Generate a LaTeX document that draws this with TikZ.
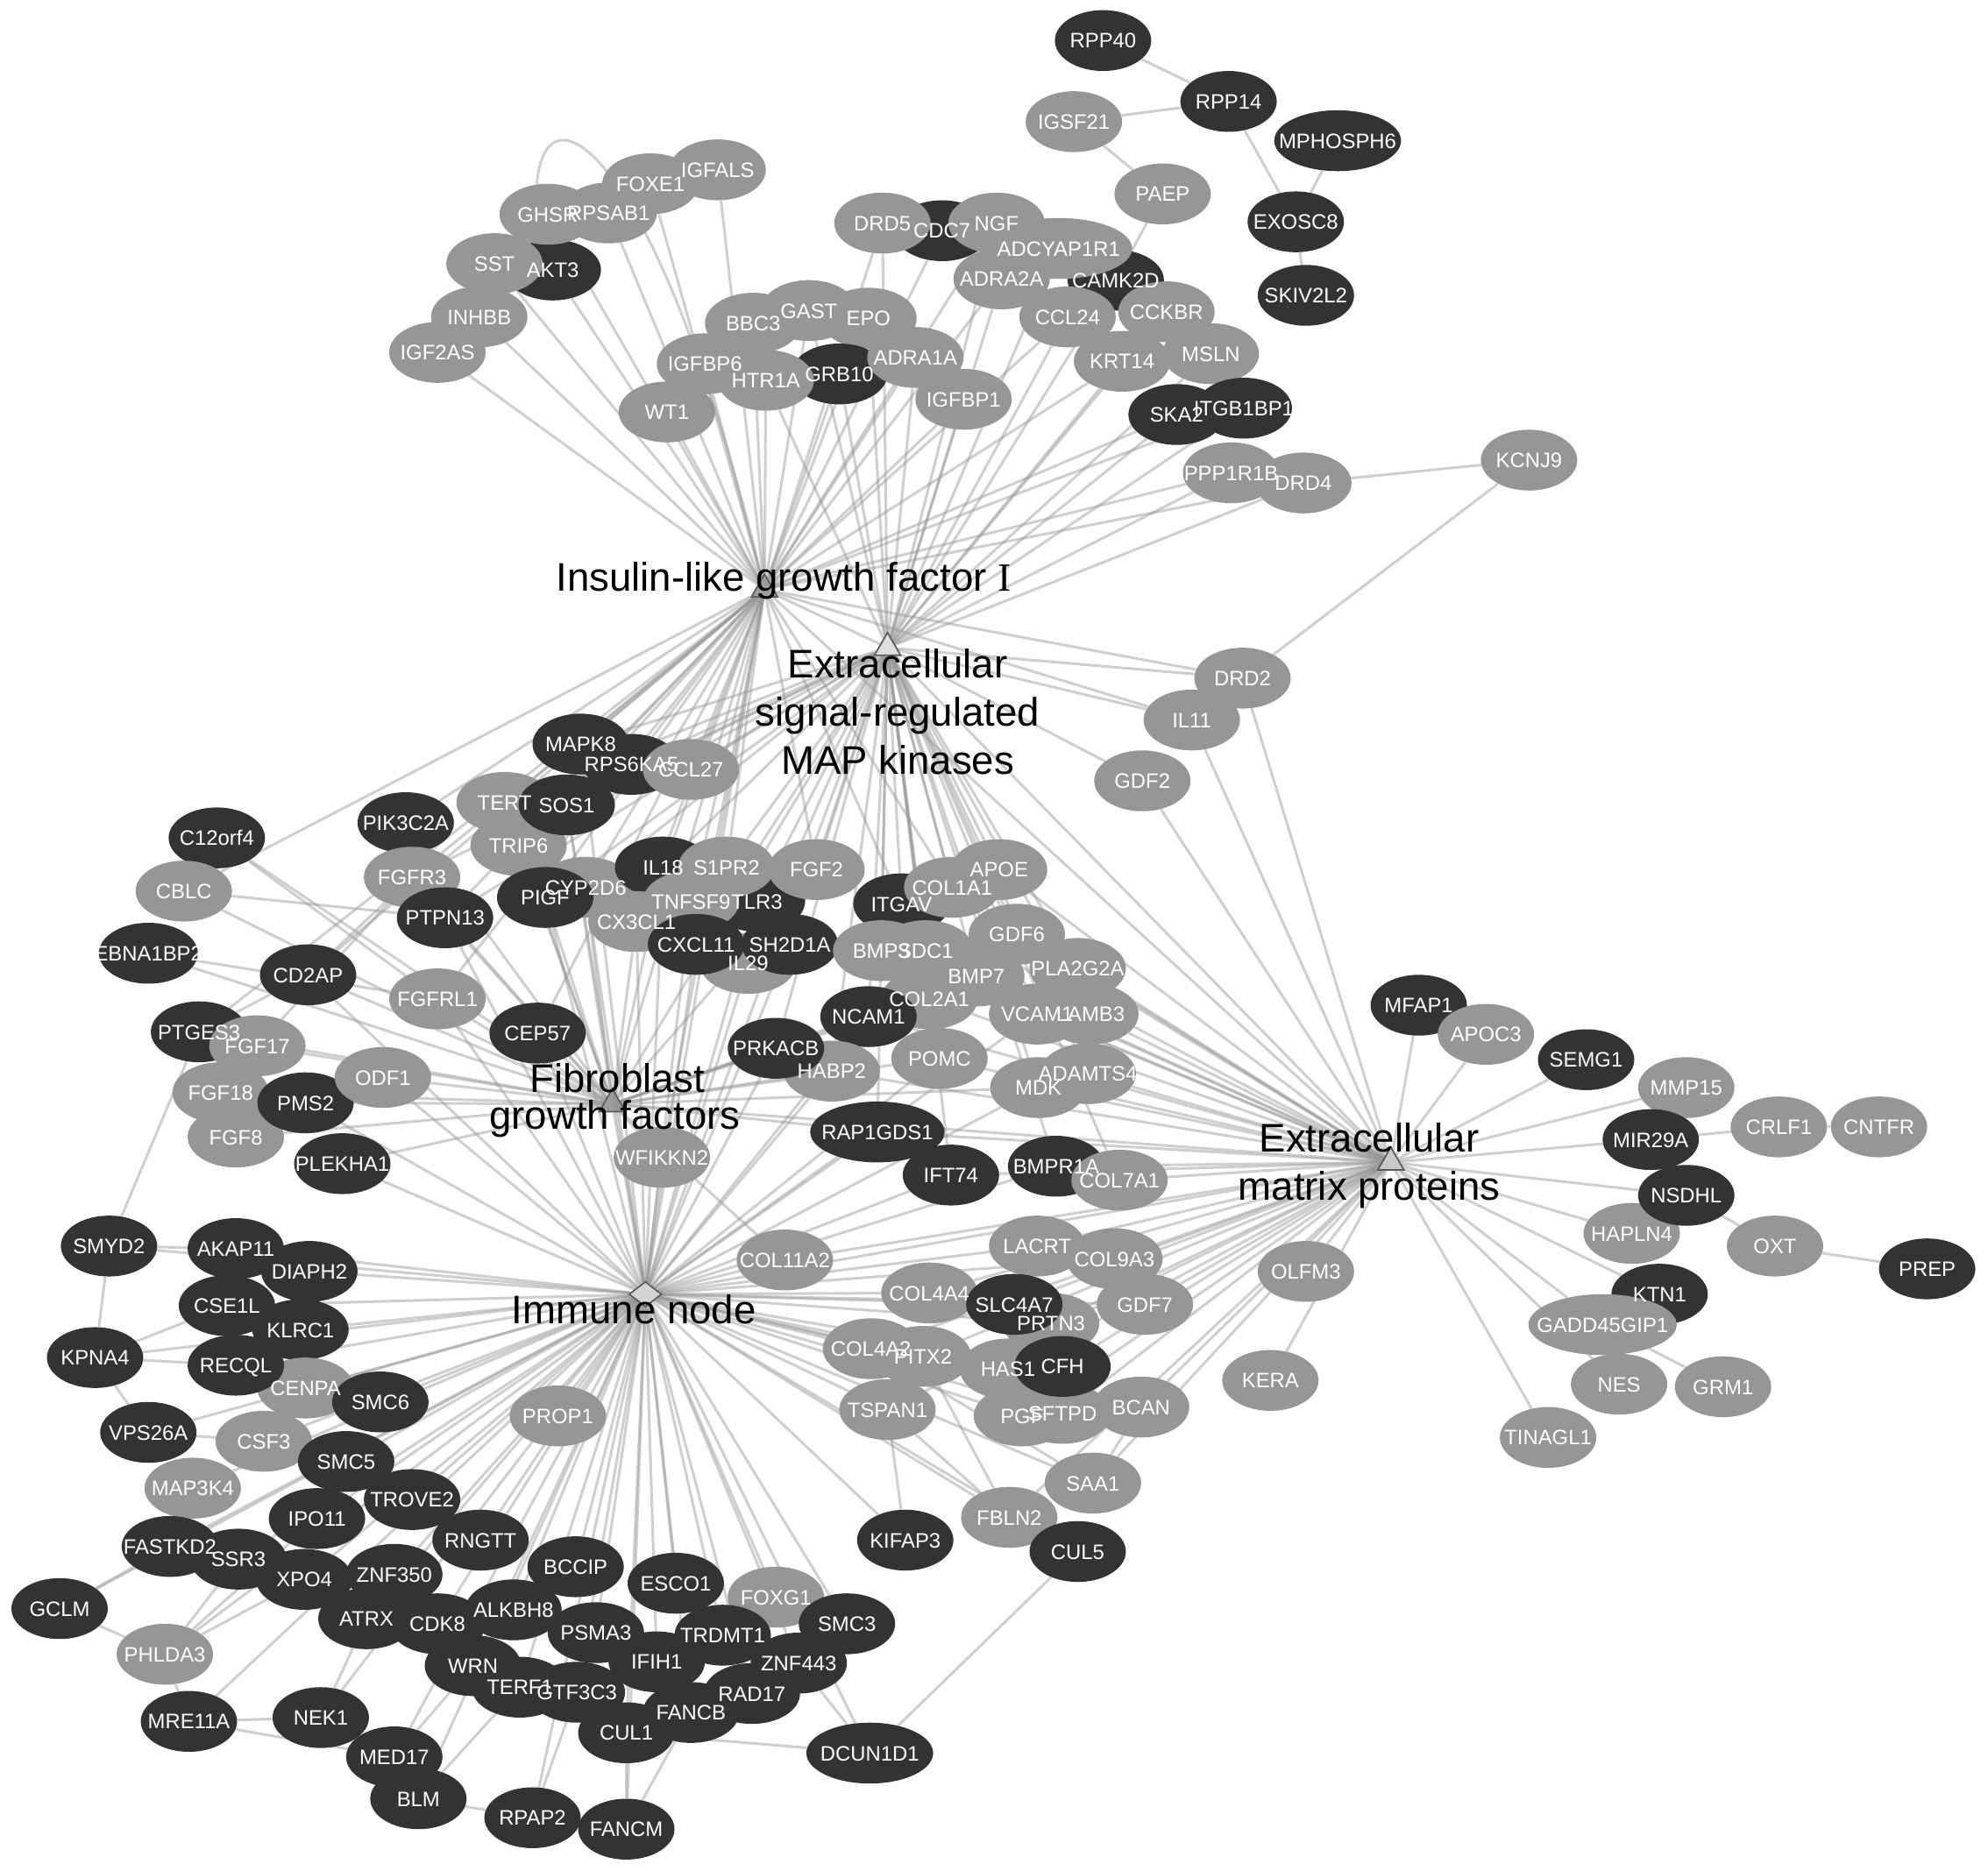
\documentclass[tikz,border=0pt]{standalone}
\usepackage{fontspec}
\setmainfont{Liberation Sans}
\newfontfamily\serifI{Liberation Serif}
\usetikzlibrary{shapes.geometric}
\pgfdeclarelayer{bg}
\pgfdeclarelayer{fg}
\pgfsetlayers{bg,main,fg}
\definecolor{dk}{RGB}{51,51,51}
\definecolor{lt}{RGB}{150,150,150}
\definecolor{edgec}{RGB}{150,150,150}
\newcommand\nfont{\fontsize{16.5}{19}\selectfont}
\newcommand\hfont{\fontsize{31.5}{36}\selectfont}
\newlength\gw
\newcommand\gn[6][0]{%
  \setbox0=\hbox{\nfont #5}%
  \gw=\wd0 \advance\gw by 6pt
  \ifdim\gw<76pt \gw=76pt\fi
  \ifdim #1pt>0pt \gw=#1pt\fi
  \node[gnode,fill=#6,minimum width=\gw] (#2) at (#3,#4) {};
  \begin{pgfonlayer}{fg}\node[glbl] (#2-t) at ([yshift=-6pt]#2.center) {#5};\end{pgfonlayer}%
}
\tikzset{
  gnode/.style={ellipse, inner sep=0pt, minimum height=48pt, draw=none},
  glbl/.style={anchor=base, inner sep=0pt, text=white, font=\nfont},
  edge/.style={draw=edgec, draw opacity=0.45, line width=2.1pt},
  hubtri/.style={regular polygon, regular polygon sides=3, minimum size=24pt, inner sep=0pt, draw=black!65, line width=1.2pt, fill=black!45, fill opacity=0.85},
  hubdia/.style={diamond, minimum width=26pt, minimum height=20pt, inner sep=0pt, draw=black!65, line width=1.2pt, fill=black!20, fill opacity=0.85},
  hlbl/.style={anchor=base, inner sep=0pt, text=black, font=\hfont},
}
\begin{document}
\begin{tikzpicture}[x=1pt,y=-1pt]
\useasboundingbox (0,0) rectangle (1568,1476);
\begin{pgfonlayer}{bg}
\fill[white] (0,0) rectangle (1568,1476);
\end{pgfonlayer}

% ---------- hubs ----------
\node[hubtri] (hI) at (603,465) {};
\node[hubtri, fill=black!15] (hE) at (700,511) {};
\node[hubtri] (hF) at (483,871) {};
\node[hubdia] (hM) at (509,1021) {};
\node[hubtri, fill=black!25] (hX) at (1097,917) {};

% ---------- top right ----------
\gn{RPP40}{870}{32}{RPP40}{dk}
\gn{RPP14}{969}{80}{RPP14}{dk}
\gn{IGSF21}{847}{96}{IGSF21}{lt}
\gn[100]{MPHOSPH6}{1055}{111}{MPHOSPH6}{dk}
\gn{PAEP}{917}{153}{PAEP}{lt}
\gn{EXOSC8}{1022}{175}{EXOSC8}{dk}
\gn{SKIV2L2}{1030}{233}{SKIV2L2}{dk}
\gn{KCNJ9}{1206}{363}{KCNJ9}{lt}

% ---------- top cluster ----------
\gn{CDC7}{743}{182}{CDC7}{dk}
\gn{DRD5}{696}{176}{DRD5}{lt}
\gn{NGF}{786}{176}{NGF}{lt}
\gn{CAMK2D}{880}{221}{CAMK2D}{dk}
\gn[116]{ADCYAP1R1}{835}{196}{ADCYAP1R1}{lt}
\gn{ADRA2A}{790}{220}{ADRA2A}{lt}
\gn{CCKBR}{920}{246}{CCKBR}{lt}
\gn{CCL24}{842}{250}{CCL24}{lt}
\gn{KRT14}{885}{285}{KRT14}{lt}
\gn{MSLN}{955}{279}{MSLN}{lt}
\gn{SKA2}{928}{327}{SKA2}{dk}
\gn{ITGB1BP1}{981}{322}{ITGB1BP1}{dk}
\gn{PPP1R1B}{971}{373}{PPP1R1B}{lt}
\gn{DRD4}{1028}{381}{DRD4}{lt}

\gn{IGFALS}{566}{134}{IGFALS}{lt}
\gn{FOXE1}{513}{145}{FOXE1}{lt}
\gn{AKT3}{436}{213}{AKT3}{dk}
\gn{RPSAB1}{480}{168}{RPSAB1}{lt}
\gn{GHSR}{432}{169}{GHSR}{lt}
\gn{SST}{390}{208}{SST}{lt}
\gn{INHBB}{378}{250}{INHBB}{lt}
\gn{IGF2AS}{345}{278}{IGF2AS}{lt}
\gn{BBC3}{594}{255}{BBC3}{lt}
\gn{GAST}{638}{245}{GAST}{lt}
\gn{EPO}{685}{251}{EPO}{lt}
\gn{GRB10}{662}{295}{GRB10}{dk}
\gn{ADRA1A}{722}{282}{ADRA1A}{lt}
\gn{IGFBP1}{760}{315}{IGFBP1}{lt}
\gn{IGFBP6}{556}{287}{IGFBP6}{lt}
\gn{HTR1A}{604}{300}{HTR1A}{lt}
\gn{WT1}{526}{325}{WT1}{lt}

% ---------- middle ----------
\gn{DRD2}{980}{535}{DRD2}{lt}
\gn{IL11}{940}{568}{IL11}{lt}
\gn{GDF2}{901}{616}{GDF2}{lt}
\gn{MAPK8}{458}{587}{MAPK8}{dk}
\gn{RPS6KA5}{498}{603}{RPS6KA5}{dk}
\gn{CCL27}{545}{607}{CCL27}{lt}
\gn{TERT}{398}{633}{TERT}{lt}
\gn{TRIP6}{409}{667}{TRIP6}{lt}
\gn{SOS1}{447}{635}{SOS1}{dk}
\gn{PIK3C2A}{320}{649}{PIK3C2A}{dk}
\gn{C12orf4}{171}{661}{C12orf4}{dk}
\gn{CBLC}{145}{703}{CBLC}{lt}
\gn{FGFR3}{325}{692}{FGFR3}{lt}
\gn{PTPN13}{351}{724}{PTPN13}{dk}
\gn{CYP2D6}{462}{700}{CYP2D6}{lt}
\gn{PIGF}{430}{708}{PIGF}{dk}
\gn{IL18}{523}{684}{IL18}{dk}
\gn{CX3CL1}{502}{727}{CX3CL1}{lt}
\gn{TLR3}{597}{711}{TLR3}{dk}
\gn{S1PR2}{573}{684}{S1PR2}{lt}
\gn{TNFSF9}{545}{711}{TNFSF9}{lt}
\gn{IL29}{590}{760}{IL29}{lt}
\gn{CXCL11}{549}{745}{CXCL11}{dk}
\gn{SH2D1A}{623}{745}{SH2D1A}{dk}
\gn{FGF2}{644}{686}{FGF2}{lt}
\gn{ITGAV}{711}{713}{ITGAV}{dk}
\gn{APOE}{788}{686}{APOE}{lt}
\gn{COL1A1}{751}{700}{COL1A1}{lt}
\gn{GDF6}{802}{737}{GDF6}{lt}
\gn{BMP3}{695}{750}{BMP3}{lt}
\gn{SDC1}{730}{750}{SDC1}{lt}
\gn{BMP7}{770}{770}{BMP7}{lt}
\gn{PLA2G2A}{850}{764}{PLA2G2A}{lt}
\gn{COL2A1}{733}{788}{COL2A1}{lt}
\gn{NCAM1}{685}{802}{NCAM1}{dk}
\gn{VCAM1}{818}{800}{VCAM1}{lt}
\gn{LAMB3}{860}{800}{LAMB3}{lt}
\gn{HABP2}{656}{845}{HABP2}{lt}
\gn{PRKACB}{612}{827}{PRKACB}{dk}
\gn{POMC}{741}{835}{POMC}{lt}
\gn{ADAMTS4}{858}{847}{ADAMTS4}{lt}
\gn{MDK}{819}{858}{MDK}{lt}
\gn[106]{RAP1GDS1}{692}{893}{RAP1GDS1}{dk}
\gn{IFT74}{750}{927}{IFT74}{dk}
\gn{BMPR1A}{833}{920}{BMPR1A}{dk}
\gn{COL7A1}{883}{931}{COL7A1}{lt}
\gn{WFIKKN2}{522}{913}{WFIKKN2}{lt}

% ---------- left ----------
\gn[78]{EBNA1BP2}{117}{752}{EBNA1BP2}{dk}
\gn{CD2AP}{243}{769}{CD2AP}{dk}
\gn{FGFRL1}{345}{788}{FGFRL1}{lt}
\gn{CEP57}{424}{815}{CEP57}{dk}
\gn{PTGES3}{157}{814}{PTGES3}{dk}
\gn{FGF17}{203}{825}{FGF17}{lt}
\gn{FGF18}{174}{862}{FGF18}{lt}
\gn{FGF8}{186}{897}{FGF8}{lt}
\gn{PMS2}{241}{870}{PMS2}{dk}
\gn{ODF1}{302}{850}{ODF1}{lt}
\gn{PLEKHA1}{270}{918}{PLEKHA1}{dk}

% ---------- right ----------
\gn{MFAP1}{1119}{793}{MFAP1}{dk}
\gn{APOC3}{1172}{816}{APOC3}{lt}
\gn{SEMG1}{1251}{836}{SEMG1}{dk}
\gn{MMP15}{1330}{858}{MMP15}{lt}
\gn{CRLF1}{1403}{889}{CRLF1}{lt}
\gn{CNTFR}{1482}{889}{CNTFR}{lt}
\gn{MIR29A}{1302}{899}{MIR29A}{dk}
\gn{HAPLN4}{1287}{973}{HAPLN4}{lt}
\gn{NSDHL}{1330}{943}{NSDHL}{dk}
\gn{OXT}{1400}{983}{OXT}{lt}
\gn{PREP}{1520}{1001}{PREP}{dk}
\gn{KTN1}{1309}{1021}{KTN1}{dk}
\gn[117]{GADD45GIP1}{1264}{1045}{GADD45GIP1}{lt}
\gn{NES}{1277}{1092}{NES}{lt}
\gn{GRM1}{1359}{1094}{GRM1}{lt}
\gn{TINAGL1}{1221}{1134}{TINAGL1}{lt}
\gn{OLFM3}{1030}{1003}{OLFM3}{lt}
\gn{KERA}{1002}{1089}{KERA}{lt}

% ---------- middle lower ----------
\gn{COL11A2}{619}{994}{COL11A2}{lt}
\gn{LACRT}{818}{983}{LACRT}{lt}
\gn{COL9A3}{879}{993}{COL9A3}{lt}
\gn{GDF7}{903}{1029}{GDF7}{lt}
\gn{PRTN3}{829}{1044}{PRTN3}{lt}
\gn{COL4A4}{733}{1020}{COL4A4}{lt}
\gn{SLC4A7}{800}{1029}{SLC4A7}{dk}
\gn{COL4A2}{687}{1064}{COL4A2}{lt}
\gn{PITX2}{728}{1070}{PITX2}{lt}
\gn{TSPAN1}{700}{1112}{TSPAN1}{lt}
\gn{HAS1}{795}{1080}{HAS1}{lt}
\gn{PGF}{806}{1117}{PGF}{lt}
\gn{SFTPD}{838}{1115}{SFTPD}{lt}
\gn{BCAN}{900}{1110}{BCAN}{lt}
\gn{CFH}{838}{1078}{CFH}{dk}
\gn{SAA1}{862}{1170}{SAA1}{lt}
\gn{FBLN2}{796}{1197}{FBLN2}{lt}
\gn{CUL5}{850}{1224}{CUL5}{dk}
\gn{KIFAP3}{714}{1215}{KIFAP3}{dk}
\gn{PROP1}{440}{1117}{PROP1}{lt}

% ---------- bottom left ----------
\gn{SMYD2}{86}{983}{SMYD2}{dk}
\gn{AKAP11}{186}{985}{AKAP11}{dk}
\gn{DIAPH2}{244}{1003}{DIAPH2}{dk}
\gn{KLRC1}{237}{1049}{KLRC1}{dk}
\gn{CSE1L}{179}{1030}{CSE1L}{dk}
\gn{KPNA4}{75}{1071}{KPNA4}{dk}
\gn{CENPA}{241}{1095}{CENPA}{lt}
\gn{RECQL}{186}{1077}{RECQL}{dk}
\gn{SMC6}{300}{1106}{SMC6}{dk}
\gn{VPS26A}{117}{1130}{VPS26A}{dk}
\gn{CSF3}{208}{1137}{CSF3}{lt}
\gn{SMC5}{273}{1153}{SMC5}{dk}
\gn{MAP3K4}{152}{1174}{MAP3K4}{lt}
\gn{TROVE2}{325}{1183}{TROVE2}{dk}
\gn{IPO11}{250}{1198}{IPO11}{dk}
\gn{RNGTT}{379}{1215}{RNGTT}{dk}
\gn{FASTKD2}{134}{1220}{FASTKD2}{dk}
\gn{SSR3}{188}{1230}{SSR3}{dk}
\gn{XPO4}{240}{1246}{XPO4}{dk}
\gn{ZNF350}{311}{1242}{ZNF350}{dk}
\gn{BCCIP}{454}{1236}{BCCIP}{dk}
\gn{ESCO1}{533}{1249}{ESCO1}{dk}
\gn{FOXG1}{612}{1260}{FOXG1}{lt}
\gn{SMC3}{668}{1281}{SMC3}{dk}
\gn{GCLM}{47}{1269}{GCLM}{dk}
\gn{ATRX}{289}{1277}{ATRX}{dk}
\gn{CDK8}{345}{1281}{CDK8}{dk}
\gn{ALKBH8}{405}{1270}{ALKBH8}{dk}
\gn{PSMA3}{470}{1288}{PSMA3}{dk}
\gn{TRDMT1}{570}{1290}{TRDMT1}{dk}
\gn{ZNF443}{630}{1312}{ZNF443}{dk}
\gn{PHLDA3}{130}{1305}{PHLDA3}{lt}
\gn{WRN}{373}{1314}{WRN}{dk}
\gn{TERF1}{410}{1331}{TERF1}{dk}
\gn{GTF3C3}{455}{1335}{GTF3C3}{dk}
\gn{IFIH1}{518}{1311}{IFIH1}{dk}
\gn{RAD17}{593}{1336}{RAD17}{dk}
\gn{FANCB}{545}{1351}{FANCB}{dk}
\gn{CUL1}{494}{1367}{CUL1}{dk}
\gn[100]{DCUN1D1}{686}{1383}{DCUN1D1}{dk}
\gn{MRE11A}{149}{1358}{MRE11A}{dk}
\gn{NEK1}{253}{1355}{NEK1}{dk}
\gn{MED17}{311}{1386}{MED17}{dk}
\gn{BLM}{330}{1419}{BLM}{dk}
\gn{RPAP2}{420}{1434}{RPAP2}{dk}
\gn{FANCM}{494}{1443}{FANCM}{dk}

% ---------- hub labels ----------
\begin{pgfonlayer}{fg}
\node[hlbl] (lI) at (618,466) {Insulin-like growth factor {\serifI I}};
\node[hlbl] (lE1) at (708,535) {Extracellular};
\node[hlbl] (lE2) at (708,573) {signal-regulated};
\node[hlbl] (lE3) at (708,611) {MAP kinases};
\node[hlbl] (lF1) at (487,862) {Fibroblast};
\node[hlbl] (lF2) at (485,891) {growth factors};
\node[hlbl] (lM) at (500,1044) {Immune node};
\node[hlbl] (lX1) at (1080,909) {Extracellular};
\node[hlbl] (lX2) at (1080,947) {matrix proteins};
\end{pgfonlayer}

% ---------- edges ----------
\begin{pgfonlayer}{bg}
\foreach \t in {IGF2AS,INHBB,SST,AKT3,GHSR,RPSAB1,FOXE1,IGFALS,WT1,IGFBP6,HTR1A,GRB10,BBC3,GAST,EPO,ADRA1A,IGFBP1,DRD5,CDC7,NGF,ADRA2A,CCL24,KRT14,SKA2,ITGB1BP1,PPP1R1B,DRD4,DRD2,IL11,MAPK8,RPS6KA5,CCL27,SOS1,TERT,TRIP6,PIK3C2A,FGFR3,PTPN13,PIGF,CYP2D6,IL18,S1PR2,TNFSF9,CX3CL1,CXCL11,FGF2,ITGAV,COL1A1,CEP57,FGFRL1,CD2AP,CBLC,PTGES3,WFIKKN2,hF,hM,hE,hX}
  \draw[edge] (hI) -- (\t);
\foreach \t in {ADCYAP1R1,CAMK2D,CCKBR,MSLN,KRT14,CCL24,ADRA2A,NGF,DRD5,IGFBP1,ADRA1A,GRB10,EPO,GAST,HTR1A,SKA2,ITGB1BP1,PPP1R1B,DRD4,DRD2,IL11,GDF2,MAPK8,RPS6KA5,CCL27,SOS1,TERT,TRIP6,FGF2,S1PR2,TLR3,SH2D1A,IL29,ITGAV,COL1A1,APOE,GDF6,BMP3,SDC1,BMP7,PLA2G2A,COL2A1,NCAM1,VCAM1,LAMB3,POMC,MDK,ADAMTS4,PRKACB,HABP2,RAP1GDS1,IFT74,BMPR1A,COL7A1,PIGF,CYP2D6,PTPN13,FGFR3,IL18,CXCL11,hF,hM,hX}
  \draw[edge] (hE) -- (\t);
\foreach \t in {FGF17,FGF18,FGF8,FGFR3,FGFRL1,ODF1,PMS2,PLEKHA1,CEP57,CD2AP,PTGES3,CBLC,C12orf4,PIK3C2A,PTPN13,FGF2,WFIKKN2,PRKACB,HABP2,EBNA1BP2,PIGF,TRIP6,TERT,IL18,CX3CL1,NCAM1,POMC,COL2A1,BMP7,RAP1GDS1,MDK,COL11A2,SOS1,CYP2D6,hM,hX}
  \draw[edge] (hF) -- (\t);
\foreach \t in {SMYD2,AKAP11,DIAPH2,CSE1L,KLRC1,KPNA4,RECQL,CENPA,SMC6,VPS26A,CSF3,SMC5,MAP3K4,TROVE2,IPO11,RNGTT,FASTKD2,SSR3,XPO4,ZNF350,BCCIP,ESCO1,FOXG1,SMC3,ATRX,CDK8,ALKBH8,PSMA3,TRDMT1,ZNF443,PHLDA3,WRN,TERF1,GTF3C3,IFIH1,RAD17,FANCB,CUL1,MRE11A,NEK1,MED17,BLM,RPAP2,FANCM,PROP1,GCLM,DCUN1D1,KIFAP3,COL11A2,COL4A4,COL4A2,PITX2,TSPAN1,SLC4A7,PRTN3,HAS1,CFH,PGF,SFTPD,LACRT,COL9A3,GDF7,BCAN,SAA1,FBLN2,CUL5,RAP1GDS1,IFT74,BMPR1A,NCAM1,PRKACB,HABP2,CXCL11,SH2D1A,IL29,IL18,TNFSF9,TLR3,CX3CL1,CYP2D6,PIGF,PTPN13,CEP57,WFIKKN2,POMC,VCAM1,MDK,PLEKHA1,PMS2,ODF1,CD2AP,FGFRL1,SOS1,MAPK8,hX}
  \draw[edge] (hM) -- (\t);
\foreach \t in {MFAP1,APOC3,SEMG1,MMP15,MIR29A,NSDHL,HAPLN4,KTN1,GADD45GIP1,NES,TINAGL1,OLFM3,KERA,COL7A1,BMPR1A,ADAMTS4,MDK,LAMB3,VCAM1,PLA2G2A,GDF6,APOE,COL1A1,COL2A1,POMC,COL9A3,LACRT,GDF7,BCAN,SAA1,FBLN2,COL4A4,COL4A2,SLC4A7,PRTN3,CFH,HAS1,SFTPD,PGF,COL11A2,TSPAN1,PITX2,IFT74,RAP1GDS1,DRD2,IL11,GDF2,HABP2,BMP7,SDC1,BMP3,ITGAV,NCAM1}
  \draw[edge] (hX) -- (\t);
\foreach \a/\b in {RPP40/RPP14,IGSF21/RPP14,IGSF21/PAEP,RPP14/EXOSC8,MPHOSPH6/EXOSC8,EXOSC8/SKIV2L2,PAEP/CAMK2D,KCNJ9/DRD4,KCNJ9/DRD2,CRLF1/MIR29A,CRLF1/CNTFR,OXT/PREP,NSDHL/OXT,GADD45GIP1/GRM1,GADD45GIP1/NES,SMYD2/AKAP11,SMYD2/KPNA4,SMYD2/PTGES3,KPNA4/CSE1L,KPNA4/RECQL,KPNA4/VPS26A,VPS26A/CSF3,GCLM/FASTKD2,GCLM/PHLDA3,PHLDA3/SSR3,PHLDA3/XPO4,PHLDA3/IPO11,FASTKD2/MAP3K4,MRE11A/NEK1,MRE11A/MED17,MRE11A/PHLDA3,NEK1/MED17,NEK1/ATRX,MED17/BLM,MED17/WRN,BLM/RPAP2,BLM/TERF1,RPAP2/FANCM,RPAP2/GTF3C3,FANCM/CUL1,FANCM/FANCB,CUL1/DCUN1D1,ZNF443/DCUN1D1,CUL5/FBLN2,CUL5/DCUN1D1,KIFAP3/TSPAN1,FBLN2/TSPAN1,FBLN2/PITX2,SAA1/BCAN,SAA1/COL4A2,CBLC/PTPN13,PTGES3/CD2AP,FGF17/FGFR3,C12orf4/FGFRL1,EBNA1BP2/FGFRL1,CD2AP/FGFR3,WT1/IGFBP6}
  \draw[edge] (\a) -- (\b);
\draw[edge] (GHSR.110) .. controls (430,60) and (520,120) .. (hI);
\end{pgfonlayer}
\end{tikzpicture}
\end{document}
